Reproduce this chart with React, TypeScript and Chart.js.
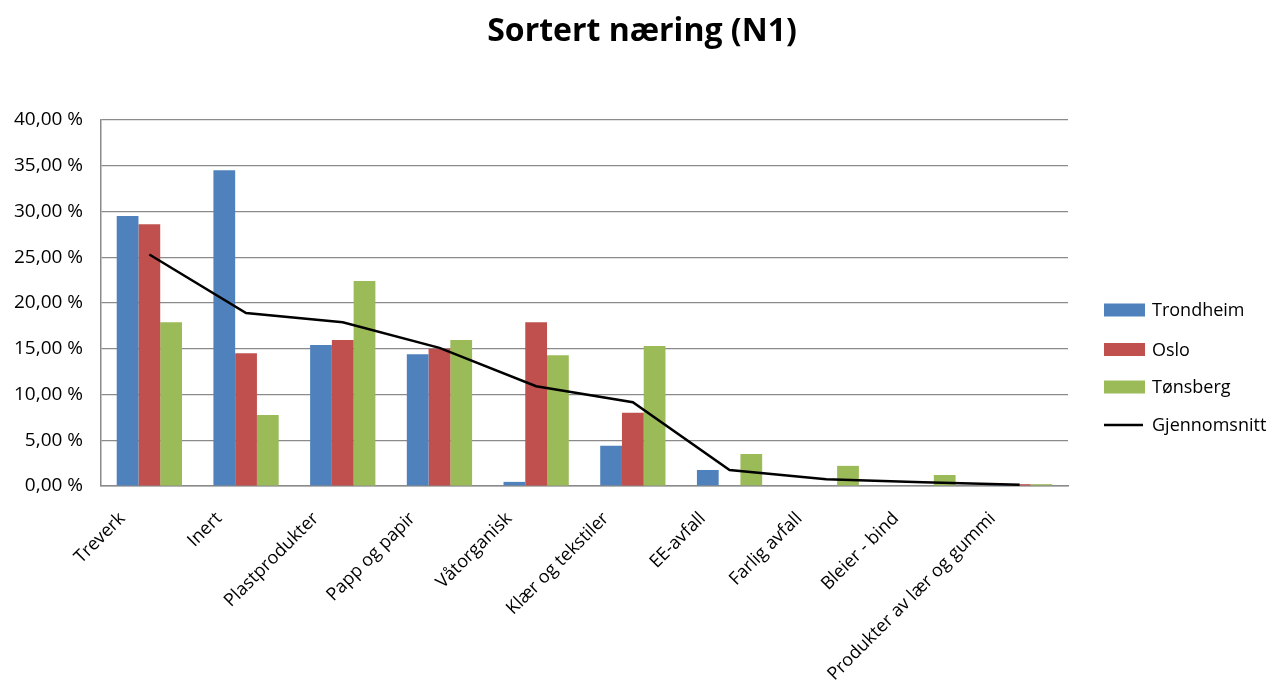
import React, { useEffect, useRef } from 'react';
import { Chart, registerables } from 'chart.js';

Chart.register(...registerables);

const chartTitle = 'Sortert næring (N1)';
const categories = [
  'Treverk',
  'Inert',
  'Plastprodukter',
  'Papp og papir',
  'Våtorganisk',
  'Klær og tekstiler',
  'EE-avfall',
  'Farlig avfall',
  'Bleier - bind',
  'Produkter av lær og gummi',
];
const trondheim = [29.5, 34.5, 15.4, 14.4, 0.45, 4.4, 1.75, 0, 0, 0.1];
const oslo = [28.6, 14.5, 15.95, 15.0, 17.9, 8.0, 0, 0, 0, 0.2];
const tonsberg = [17.9, 7.75, 22.4, 15.95, 14.3, 15.3, 3.5, 2.2, 1.2, 0.2];
const gjennomsnitt = [25.3, 18.9, 17.9, 15.1, 10.9, 9.15, 1.75, 0.75, 0.4, 0.15];
const seriesNames = ['Trondheim', 'Oslo', 'Tønsberg', 'Gjennomsnitt'];
const seriesColors = ['#4F81BD', '#C0504D', '#9BBB59', '#000000'];
const yMin = 0;
const yMax = 40;
const yStep = 5;

const FONT = '"Open Sans", "Noto Sans", sans-serif';

const decorPlugin = {
  id: 'decor',
  afterDraw(chart: any) {
    const ctx = chart.ctx as CanvasRenderingContext2D;
    ctx.save();
    // Title
    ctx.fillStyle = '#000';
    ctx.font = `bold 32px ${FONT}`;
    ctx.textAlign = 'center';
    ctx.textBaseline = 'alphabetic';
    ctx.fillText(chartTitle, 642, 41);
    // Legend
    const rows = [310, 349.5, 387, 425];
    const boxX = 1104;
    const boxW = 41;
    const boxH = 13;
    ctx.font = `18px ${FONT}`;
    ctx.textAlign = 'left';
    ctx.textBaseline = 'middle';
    chart.data.datasets.forEach((ds: any, i: number) => {
      const y = rows[i];
      if (ds.type === 'line') {
        ctx.strokeStyle = ds.borderColor;
        ctx.lineWidth = 2.5;
        ctx.beginPath();
        ctx.moveTo(boxX, y);
        ctx.lineTo(boxX + boxW - 2, y);
        ctx.stroke();
      } else {
        ctx.fillStyle = ds.backgroundColor;
        ctx.fillRect(boxX, y - boxH / 2, boxW, boxH);
      }
      ctx.fillStyle = '#000';
      ctx.fillText(ds.label, 1152, y + 1);
    });
    ctx.restore();
  },
};

export default function App() {
  const canvasRef = useRef<HTMLCanvasElement | null>(null);

  useEffect(() => {
    document.body.style.margin = '0';
    document.body.style.overflow = 'hidden';
    const canvas = canvasRef.current;
    if (!canvas) return;
    const chart = new Chart(canvas, {
      type: 'bar',
      data: {
        labels: categories,
        datasets: [
          {
            type: 'bar',
            label: seriesNames[0],
            data: trondheim,
            backgroundColor: seriesColors[0],
            order: 1,
          },
          {
            type: 'bar',
            label: seriesNames[1],
            data: oslo,
            backgroundColor: seriesColors[1],
            order: 1,
          },
          {
            type: 'bar',
            label: seriesNames[2],
            data: tonsberg,
            backgroundColor: seriesColors[2],
            order: 1,
          },
          {
            type: 'line',
            label: seriesNames[3],
            data: gjennomsnitt,
            borderColor: seriesColors[3],
            backgroundColor: seriesColors[3],
            borderWidth: 2.5,
            pointRadius: 0,
            tension: 0,
            order: 0,
          } as any,
        ],
      },
      options: {
        responsive: false,
        animation: false,
        layout: { padding: { top: 120, right: 207, left: 0, bottom: 0 } },
        plugins: {
          legend: { display: false },
          title: { display: false },
          tooltip: { enabled: false },
        },
        datasets: {
          bar: { categoryPercentage: 0.675, barPercentage: 1 },
        },
        scales: {
          x: {
            grid: { display: false, drawTicks: false },
            border: { display: true, color: '#8a8a8a', width: 1.5 },
            ticks: {
              color: '#000',
              font: { family: FONT, size: 18 },
              minRotation: 45,
              maxRotation: 45,
              autoSkip: false,
              padding: 22,
              labelOffset: -27,
            },
            afterFit: (scale: any) => {
              scale.height = 202;
            },
          },
          y: {
            min: yMin,
            max: yMax,
            grid: { color: '#8a8a8a', lineWidth: 1.2, drawTicks: false },
            border: { display: true, color: '#8a8a8a', width: 1.5 },
            ticks: {
              stepSize: yStep,
              color: '#000',
              font: { family: FONT, size: 19 },
              padding: 18,
              callback: (v: any) => Number(v).toFixed(2).replace('.', ',') + ' %',
            },
            afterFit: (scale: any) => {
              scale.width = 101;
            },
          },
        },
      },
      plugins: [decorPlugin],
    });
    return () => chart.destroy();
  }, []);

  return (
    <div style={{ width: 1275, height: 688 }}>
      <canvas ref={canvasRef} width={1275} height={688} style={{ display: 'block' }} />
    </div>
  );
}
